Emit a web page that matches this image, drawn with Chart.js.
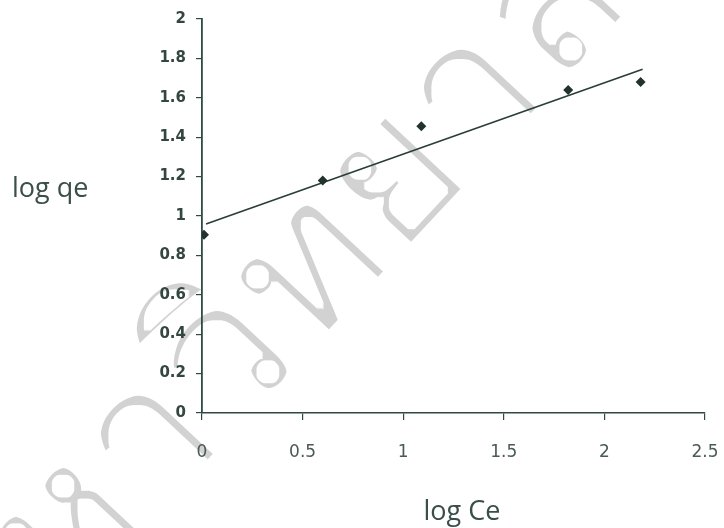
<!DOCTYPE html>
<html>
<head>
<meta charset="utf-8">
<title>log qe vs log Ce</title>
<script src="https://cdn.jsdelivr.net/npm/chart.js@4/dist/chart.umd.min.js"></script>
<style>
  html, body { margin: 0; padding: 0; background: #ffffff; }
  #wrap { width: 724px; height: 528px; }
</style>
</head>
<body>
<svg width="0" height="0" style="position:absolute">
  <filter id="thin"><feMorphology operator="erode" radius="3"/></filter>
</svg>
<div id="wrap"><canvas id="isoChart" width="724" height="528"></canvas></div>
<script>
// Freundlich plot: measured points
const logCe = [0.01, 0.6, 1.09, 1.82, 2.18];
const logQe = [0.905, 1.18, 1.455, 1.64, 1.68];

// linear trendline end points
const trendX = [0.02, 2.19];
const trendY = [0.96, 1.745];

// tick labels
const xTicks = ["0", "0.5", "1", "1.5", "2", "2.5"];
const yTicks = ["0", "0.2", "0.4", "0.6", "0.8", "1", "1.2", "1.4", "1.6", "1.8", "2"];

const xTitle = "log Ce";
const yTitle = "log qe";
const stampText = "มหาวิทยาลัยราชภัฏ";

const axisColor = "#2f4a44";
const inkColor = "#3b4f4a";

// faint diagonal stamp behind the plot, thinned with an erode filter
const stamp = {
  id: "stamp",
  beforeDraw(chart) {
    const c = chart.ctx;
    c.save();
    c.filter = "url(#thin)";
    c.translate(-25, 715);
    c.rotate(-47 * Math.PI / 180);
    c.font = "200px 'Noto Sans', sans-serif";
    c.fillStyle = "rgb(210,210,210)";
    c.textBaseline = "alphabetic";
    c.fillText(stampText, 0, 0);
    c.restore();
  }
};

// draw the two axis titles (y title sits horizontally on the left)
const axisTitles = {
  id: "axisTitles",
  afterDraw(chart) {
    const c = chart.ctx;
    c.save();
    c.fillStyle = inkColor;
    c.font = "27px 'Open Sans'";
    c.textBaseline = "alphabetic";
    c.textAlign = "left";
    c.fillText(yTitle, 12, 197);
    c.textAlign = "center";
    c.fillText(xTitle, 462, 520);
    c.restore();
  }
};

const points = logCe.map((x, i) => ({ x: x, y: logQe[i] }));
const trend = trendX.map((x, i) => ({ x: x, y: trendY[i] }));

new Chart(document.getElementById("isoChart"), {
  type: "scatter",
  data: {
    datasets: [
      {
        label: "data",
        data: points,
        pointStyle: "rectRot",
        pointRadius: 5,
        pointBackgroundColor: "#22322e",
        pointBorderColor: "#22322e",
        pointBorderWidth: 0,
        showLine: false
      },
      {
        label: "trend",
        data: trend,
        showLine: true,
        pointRadius: 0,
        borderColor: "#2a3d38",
        borderWidth: 1.6,
        fill: false
      }
    ]
  },
  options: {
    responsive: false,
    animation: false,
    layout: { padding: { top: 19, right: 19, bottom: 0, left: 0 } },
    plugins: {
      legend: { display: false },
      tooltip: { enabled: false }
    },
    scales: {
      x: {
        type: "linear",
        min: 0,
        max: 2.5,
        afterBuildTicks: (scale) => {
          scale.ticks = xTicks.map((t) => ({ value: parseFloat(t) }));
        },
        afterFit: (scale) => {
          scale.height = 115;
          scale.paddingRight = 0;
          scale.paddingLeft = 0;
        },
        ticks: {
          callback: (v, i) => xTicks[i],
          color: "#4a5a56",
          font: { family: "'DejaVu Sans'", size: 17 },
          padding: 22,
          maxRotation: 0
        },
        grid: {
          drawOnChartArea: false,
          drawTicks: true,
          tickLength: 7,
          color: axisColor,
          lineWidth: 1.2
        },
        border: { display: true, color: axisColor, width: 1.5 }
      },
      y: {
        type: "linear",
        min: 0,
        max: 2,
        afterBuildTicks: (scale) => {
          scale.ticks = yTicks.map((t) => ({ value: parseFloat(t) }));
        },
        afterFit: (scale) => { scale.width = 202; },
        ticks: {
          callback: (v, i) => yTicks[i],
          color: "#33463f",
          font: { family: "'DejaVu Sans'", size: 15, weight: "bold" },
          padding: 10
        },
        grid: {
          drawOnChartArea: false,
          drawTicks: true,
          tickLength: 6,
          color: axisColor,
          lineWidth: 1.2
        },
        border: { display: true, color: axisColor, width: 1.8 }
      }
    }
  },
  plugins: [stamp, axisTitles]
});
</script>
</body>
</html>
